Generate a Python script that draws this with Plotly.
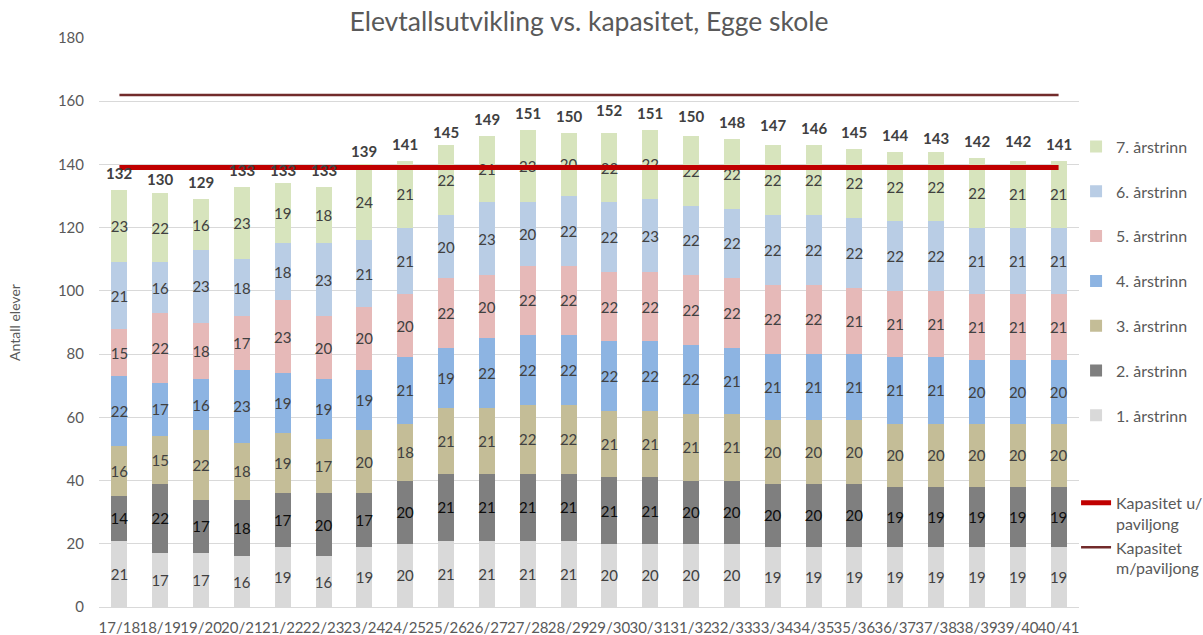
import plotly.graph_objects as go

years = ["17/18", "18/19", "19/20", "20/21", "21/22", "22/23", "23/24", "24/25",
         "25/26", "26/27", "27/28", "28/29", "29/30", "30/31", "31/32", "32/33",
         "33/34", "34/35", "35/36", "36/37", "37/38", "38/39", "39/40", "40/41"]

trinn1 = [21, 17, 17, 16, 19, 16, 19, 20, 21, 21, 21, 21, 20, 20, 20, 20, 19, 19, 19, 19, 19, 19, 19, 19]
trinn2 = [14, 22, 17, 18, 17, 20, 17, 20, 21, 21, 21, 21, 21, 21, 20, 20, 20, 20, 20, 19, 19, 19, 19, 19]
trinn3 = [16, 15, 22, 18, 19, 17, 20, 18, 21, 21, 22, 22, 21, 21, 21, 21, 20, 20, 20, 20, 20, 20, 20, 20]
trinn4 = [22, 17, 16, 23, 19, 19, 19, 21, 19, 22, 22, 22, 22, 22, 22, 21, 21, 21, 21, 21, 21, 20, 20, 20]
trinn5 = [15, 22, 18, 17, 23, 20, 20, 20, 22, 20, 22, 22, 22, 22, 22, 22, 22, 22, 21, 21, 21, 21, 21, 21]
trinn6 = [21, 16, 23, 18, 18, 23, 21, 21, 20, 23, 20, 22, 22, 23, 22, 22, 22, 22, 22, 22, 22, 21, 21, 21]
trinn7 = [23, 22, 16, 23, 19, 18, 24, 21, 22, 21, 23, 20, 22, 22, 22, 22, 22, 22, 22, 22, 22, 22, 21, 21]
totals = [132, 130, 129, 133, 133, 133, 139, 141, 145, 149, 151, 150, 152, 151, 150, 148,
          147, 146, 145, 144, 143, 142, 142, 141]

kap_u_paviljong = 139
kap_m_paviljong = 162

series = [
    ("1. årstrinn", trinn1, "#D9D9D9", "#404040"),
    ("2. årstrinn", trinn2, "#7F7F7F", "#0D0D0D"),
    ("3. årstrinn", trinn3, "#C4BD97", "#404040"),
    ("4. årstrinn", trinn4, "#8DB4E2", "#404040"),
    ("5. årstrinn", trinn5, "#E6B9B8", "#404040"),
    ("6. årstrinn", trinn6, "#B9CDE5", "#404040"),
    ("7. årstrinn", trinn7, "#D7E4BD", "#404040"),
]

FONT = "Lato"
GREY = "#595959"

fig = go.Figure()
n_series = len(series)
for i, (name, vals, color, tcolor) in enumerate(series):
    fig.add_trace(go.Bar(
        x=years, y=vals, name=name, marker=dict(color=color, line=dict(width=0)),
        text=[str(v) for v in vals], textposition="inside", insidetextanchor="middle",
        textangle=0, textfont=dict(family=FONT, size=15, color=tcolor),
        legendgroup=f"g{i}", legend="legend", legendrank=n_series - i,
    ))

fig.add_trace(go.Scatter(
    x=years, y=[kap_u_paviljong] * len(years), mode="lines",
    name="Kapasitet u/<br>paviljong", line=dict(color="#C00000", width=5),
    legend="legend2",
))
fig.add_trace(go.Scatter(
    x=years, y=[kap_m_paviljong] * len(years), mode="lines",
    name="Kapasitet<br>m/paviljong", line=dict(color="#722B2B", width=2.5),
    legend="legend2",
))

for yr, tot in zip(years, totals):
    fig.add_annotation(x=yr, y=tot, text=f"<b>{tot}</b>", showarrow=False,
                       yanchor="bottom", yshift=6,
                       font=dict(family=FONT, size=15, color="#404040"))

fig.update_layout(
    width=1203, height=635,
    margin=dict(l=99, r=124, t=38, b=28, autoexpand=False),
    paper_bgcolor="white", plot_bgcolor="white",
    barmode="stack", bargap=0.61,
    font=dict(family=FONT, color=GREY),
    title=dict(text="Elevtallsutvikling vs. kapasitet, Egge skole",
               x=(589 / 1203), xanchor="center", y=1 - 22 / 635, yanchor="middle",
               font=dict(family=FONT, size=26.5, color=GREY)),
    uniformtext=dict(mode="show", minsize=15),
    legend=dict(x=0.997, xanchor="left", y=0.839, yanchor="top",
                traceorder="grouped", tracegroupgap=21,
                font=dict(family=FONT, size=16, color=GREY),
                bgcolor="rgba(0,0,0,0)"),
    legend2=dict(x=0.997, xanchor="left", y=0.213, yanchor="top",
                 traceorder="normal", valign="top",
                 font=dict(family=FONT, size=16, color=GREY),
                 bgcolor="rgba(0,0,0,0)"),
    xaxis=dict(type="category", tickmode="array", tickvals=years, ticktext=years,
               tickangle=0, showgrid=False, showline=False, ticks="",
               tickfont=dict(family=FONT, size=15, color=GREY),
               ticklabelstandoff=10),
    yaxis=dict(range=[0, 180], tickmode="linear", tick0=0, dtick=20,
               showgrid=True, gridcolor="#D9D9D9", gridwidth=1,
               zeroline=True, zerolinecolor="#D9D9D9", zerolinewidth=1,
               showline=False, ticks="",
               tickfont=dict(family=FONT, size=15, color=GREY),
               ticklabelstandoff=14,
               title=dict(text="Antall elever", standoff=33,
                          font=dict(family=FONT, size=14, color=GREY))),
)

fig.write_html("out.html", config={"displayModeBar": False},
               post_script="document.body.style.margin='0';document.body.style.overflow='hidden';")
